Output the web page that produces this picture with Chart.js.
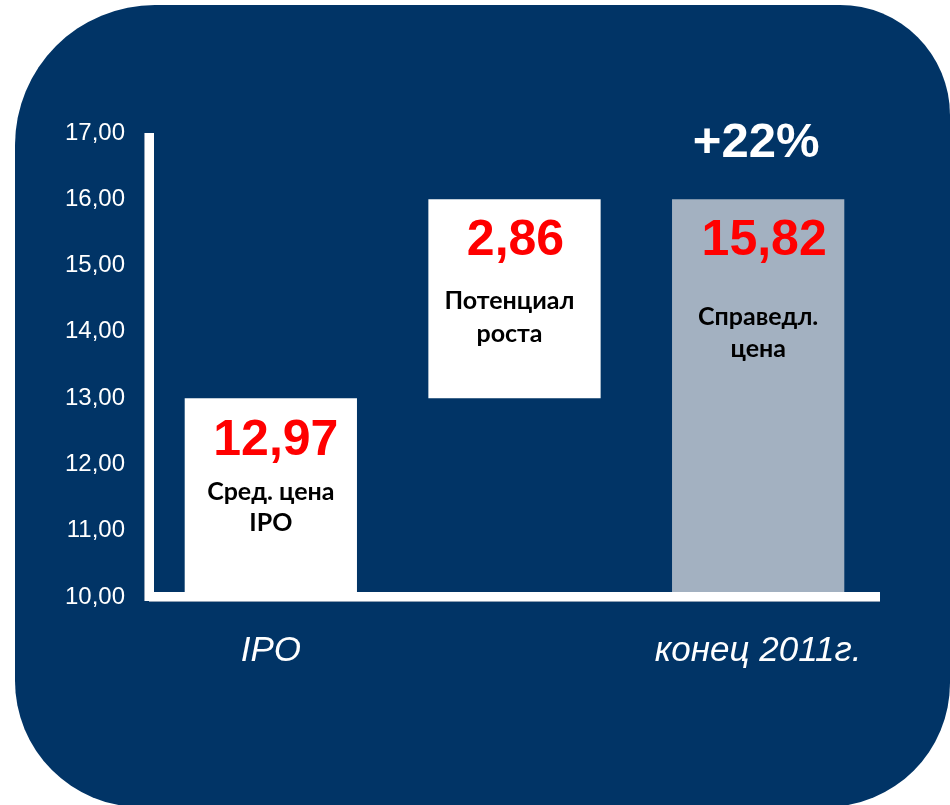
<!DOCTYPE html>
<html>
<head>
<meta charset="utf-8">
<script src="https://cdn.jsdelivr.net/npm/chart.js@4"></script>
<style>
  html, body { margin: 0; padding: 0; background: #ffffff; }
  canvas { display: block; }
</style>
</head>
<body>
<canvas id="c" width="950" height="805"></canvas>
<script>
// ---- data ----
const categories = ['IPO', '', 'конец 2011г.'];
const barStart = [10, 13.0, 10];
const barEnd = [13.0, 16.0, 16.0];
const valueLabels = ['12,97', '2,86', '15,82'];
const captionLines = [['Сред. цена', 'IPO'], ['Потенциал', 'роста'], ['Справедл.', 'цена']];
const changeLabel = '+22%';
const yMin = 10, yMax = 17, yStep = 1;

// ---- styles ----
const BG = '#013466';
const barColors = ['#ffffff', '#ffffff', '#a3b1c1'];
// per-bar label offsets relative to the bar's top edge (px)
const labelOffsets = [
  { num: 43, numDx: 5, l1: 94, l2: 125, capDx: 0 },
  { num: 42, numDx: 1, l1: 102, l2: 135, capDx: -5 },
  { num: 42, numDx: 6, l1: 118, l2: 150, capDx: 0 }
];

const decor = {
  id: 'decor',
  beforeDraw(chart) {
    const ctx = chart.ctx;
    const x = 15, y = 5, w = 935, h = 802;
    const r = [140, 110, 124, 126]; // tl, tr, br, bl
    ctx.save();
    ctx.fillStyle = BG;
    ctx.beginPath();
    ctx.moveTo(x + r[0], y);
    ctx.lineTo(x + w - r[1], y);
    ctx.arcTo(x + w, y, x + w, y + r[1], r[1]);
    ctx.lineTo(x + w, y + h - r[2]);
    ctx.arcTo(x + w, y + h, x + w - r[2], y + h, r[2]);
    ctx.lineTo(x + r[3], y + h);
    ctx.arcTo(x, y + h, x, y + h - r[3], r[3]);
    ctx.lineTo(x, y + r[0]);
    ctx.arcTo(x, y, x + r[0], y, r[0]);
    ctx.closePath();
    ctx.fill();
    ctx.restore();
  },
  afterDatasetsDraw(chart) {
    const ctx = chart.ctx;
    const ys = chart.scales.y;
    const area = chart.chartArea;
    const top = ys.getPixelForValue(yMax);
    const base = ys.getPixelForValue(yMin);
    ctx.save();
    // axis wall (vertical) and floor (horizontal)
    ctx.fillStyle = '#8fa0b4';
    ctx.fillRect(area.left - 5, top, 1, base + 4 - top);
    ctx.fillRect(area.left, base + 4, area.right - area.left, 1);
    ctx.fillStyle = '#ffffff';
    ctx.fillRect(area.left - 4, top, 9, base + 4 - top);
    ctx.fillRect(area.left, base - 5, area.right - area.left, 9);

    // labels inside bars
    const meta = chart.getDatasetMeta(0);
    meta.data.forEach((bar, i) => {
      const o = labelOffsets[i];
      const topY = Math.min(bar.y, bar.base);
      ctx.textAlign = 'center';
      ctx.textBaseline = 'middle';
      ctx.fillStyle = '#ff0000';
      ctx.font = 'bold 50px "Liberation Sans", Arial, sans-serif';
      ctx.fillText(valueLabels[i], bar.x + o.numDx, topY + o.num);
      ctx.fillStyle = '#000000';
      ctx.font = 'bold 25px Lato, "Open Sans", sans-serif';
      ctx.fillText(captionLines[i][0], bar.x + o.capDx, topY + o.l1);
      ctx.fillText(captionLines[i][1], bar.x + o.capDx, topY + o.l2);
    });

    // change label above the last bar
    const last = meta.data[meta.data.length - 1];
    ctx.fillStyle = '#ffffff';
    ctx.font = 'bold 49px "Liberation Sans", Arial, sans-serif';
    ctx.textAlign = 'center';
    ctx.textBaseline = 'middle';
    ctx.fillText(changeLabel, last.x - 2, ys.getPixelForValue(yMax) + 10);
    ctx.restore();
  }
};

new Chart(document.getElementById('c'), {
  type: 'bar',
  data: {
    labels: categories,
    datasets: [{
      data: barStart.map((s, i) => [s, barEnd[i]]),
      backgroundColor: barColors,
      borderWidth: 0,
      categoryPercentage: 1.0,
      barPercentage: 0.707
    }]
  },
  options: {
    responsive: false,
    animation: false,
    layout: { padding: { top: 133, right: 70, bottom: 0, left: 0 } },
    plugins: { legend: { display: false }, tooltip: { enabled: false } },
    scales: {
      x: {
        grid: { display: false, drawTicks: false },
        border: { display: false },
        ticks: {
          color: '#ffffff',
          padding: 33,
          font: { family: '"Liberation Sans", Arial, sans-serif', size: 35, style: 'italic' }
        },
        afterFit(scale) { scale.height = 805 - 597; }
      },
      y: {
        min: yMin,
        max: yMax,
        grid: { display: false, drawTicks: false },
        border: { display: false },
        ticks: {
          stepSize: yStep,
          autoSkip: false,
          color: '#ffffff',
          padding: 24,
          font: { family: '"Liberation Sans", Arial, sans-serif', size: 24 },
          callback: (v) => Number(v).toFixed(2).replace('.', ',')
        },
        afterFit(scale) { scale.width = 149; }
      }
    }
  },
  plugins: [decor]
});
</script>
</body>
</html>
